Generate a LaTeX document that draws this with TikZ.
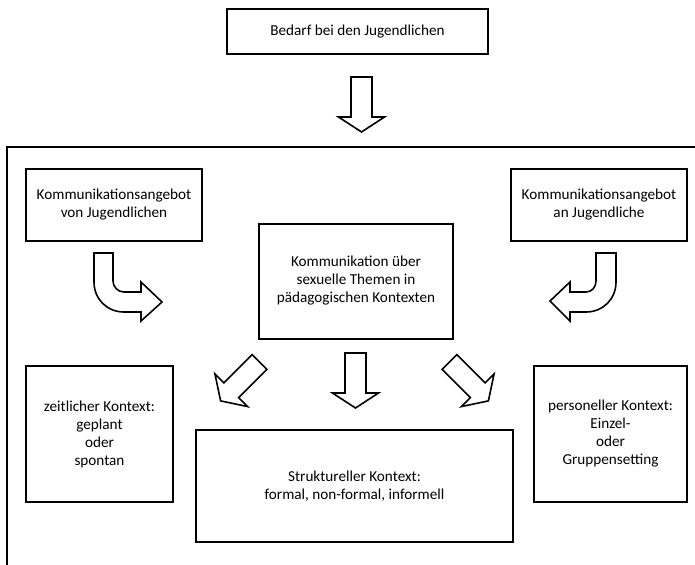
\documentclass[tikz,border=0pt]{standalone}
\usepackage{fontspec}
\setmainfont{Carlito}
\tikzset{
	box/.style={draw, line width=1.5pt, align=center, inner sep=0pt,
		font=\fontsize{11.4}{13.5}\selectfont},
	blockline/.style={draw, line width=1.2pt, line join=miter, fill=white},
	pics/blockarrow/.style={code={
		\draw[blockline] (-10.5,0) -- (-10.5,40) -- (-23,40) -- (0,55) -- (23,40) -- (10.5,40) -- (10.5,0) -- cycle;
	}}
}

\begin{document}
\begin{tikzpicture}[x=0.75pt,y=-0.75pt]
		\useasboundingbox (0,0) rectangle (695,564);
		% outer frame, open to the right and bottom
		\draw[line width=1.5pt] (700,147) -- (7,147) -- (7,570);
		% boxes
		\node[box, minimum width=261*0.75pt, minimum height=45*0.75pt] (bedarf) at (357.5,31.5) {Bedarf bei den Jugendlichen};
		\node[box, minimum width=176*0.75pt, minimum height=72*0.75pt] (vonjug) at (114,205) {Kommunikationsangebot\\von Jugendlichen};
		\node[box, minimum width=176*0.75pt, minimum height=72*0.75pt] (anjug) at (599,205) {Kommunikationsangebot\\an Jugendliche};
		\node[box, minimum width=194*0.75pt, minimum height=115*0.75pt] (komm) at (356,281) {Kommunikation über\\sexuelle Themen in\\pädagogischen Kontexten};
		\node[box, minimum width=147*0.75pt, minimum height=136*0.75pt] (zeit) at (99.5,434) {zeitlicher Kontext:\\geplant\\oder\\spontan};
		\node[box, minimum width=317*0.75pt, minimum height=112*0.75pt] (struk) at (354.5,486) {Struktureller Kontext:\\formal, non-formal, informell};
		\node[box, minimum width=153*0.75pt, minimum height=136*0.75pt] (pers) at (610.5,434) {personeller Kontext:\\Einzel-\\oder\\Gruppensetting};
		% straight block arrows
		\pic at (361.5,77) {blockarrow};
		\pic at (355.5,353) {blockarrow};
		\pic[rotate=-45] at (259.5,362) {blockarrow};
		\pic[rotate=45] at (449.5,362) {blockarrow};
		% curved block arrows
		\draw[blockline] (94,253) -- (94,282) .. controls (94,299) and (107,312) .. (124,312) -- (141,312) -- (141,321) -- (162,302) -- (141,282) -- (141,292) -- (124,292) .. controls (118,292) and (113,287) .. (113,281) -- (113,253) -- cycle;
		\draw[blockline] (616,253) -- (616,282) .. controls (616,299) and (603,312) .. (586,312) -- (570,312) -- (570,321) -- (550,301) -- (570,282) -- (570,292) -- (586,292) .. controls (592,292) and (596,287) .. (596,281) -- (596,253) -- cycle;
	\end{tikzpicture}
\end{document}
